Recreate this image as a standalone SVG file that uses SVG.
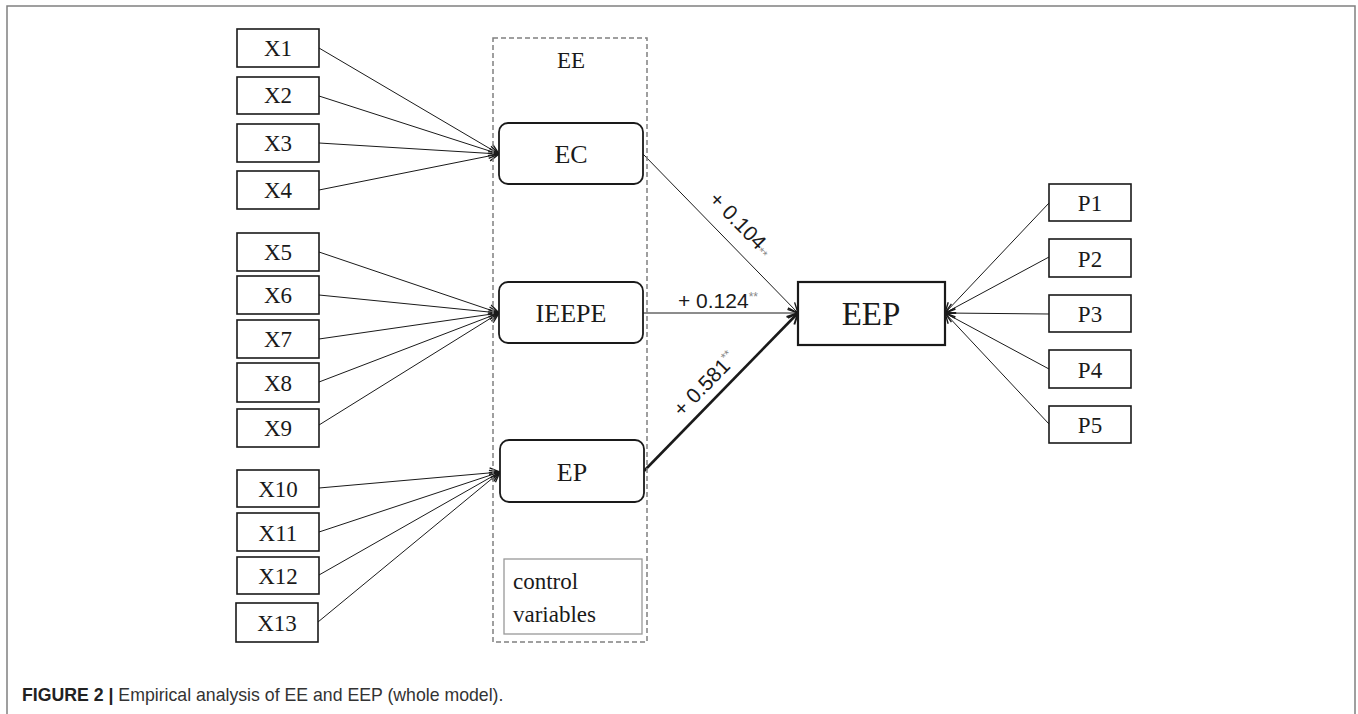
<svg xmlns="http://www.w3.org/2000/svg" width="1358" height="714" viewBox="0 0 1358 714">
<style>
.frame{fill:none;stroke:#808080;stroke-width:1.5}
.box{fill:#fff;stroke:#1a1a1a;stroke-width:1.6}
.rbox{fill:#fff;stroke:#1a1a1a;stroke-width:1.8}
.t{font-family:"Liberation Serif","Times New Roman",serif;fill:#1a1a1a;text-anchor:middle}
.lbl{font-family:"Liberation Sans",Arial,sans-serif;font-size:21px;fill:#1a1a1a}
.sup{font-size:12px;fill:#888}
.c{stroke:#1a1a1a;stroke-width:1;fill:none;marker-end:url(#arr)}
.thick{stroke-width:2.6;marker-end:url(#arrb)}
.cap{font-family:"Liberation Sans",Arial,sans-serif;font-size:17.7px;fill:#333}
</style>
<defs>
<marker id="arr" viewBox="0 0 12 12" refX="11" refY="6" markerWidth="12" markerHeight="12" markerUnits="userSpaceOnUse" orient="auto">
<path d="M1,1 L11,6 L1,11" fill="none" stroke="#1a1a1a" stroke-width="1.4"/>
</marker>
<marker id="arrb" viewBox="0 0 12 12" refX="11" refY="6" markerWidth="13" markerHeight="13" markerUnits="userSpaceOnUse" orient="auto">
<path d="M1,1 L11,6 L1,11" fill="none" stroke="#1a1a1a" stroke-width="1.8"/>
</marker>
</defs>
<rect width="1358" height="714" fill="#fff"/>
<path class="frame" d="M7,714 V6 H1355 V714"/>

<g id="connectors">
<line class="c" x1="319" y1="48" x2="499" y2="154"/>
<line class="c" x1="319" y1="96" x2="499" y2="154"/>
<line class="c" x1="319" y1="143" x2="499" y2="154"/>
<line class="c" x1="319" y1="190" x2="499" y2="154"/>
<line class="c" x1="319" y1="252" x2="499" y2="313"/>
<line class="c" x1="319" y1="295" x2="499" y2="313"/>
<line class="c" x1="319" y1="339" x2="499" y2="313"/>
<line class="c" x1="319" y1="382" x2="499" y2="313"/>
<line class="c" x1="319" y1="425" x2="499" y2="313"/>
<line class="c" x1="319" y1="488" x2="500" y2="472"/>
<line class="c" x1="319" y1="532" x2="500" y2="472"/>
<line class="c" x1="319" y1="575" x2="500" y2="472"/>
<line class="c" x1="318" y1="622" x2="500" y2="472"/>
<line class="c" x1="643" y1="154" x2="798" y2="313"/>
<line class="c" x1="643" y1="313" x2="798" y2="313"/>
<line class="c thick" x1="644" y1="471" x2="798" y2="313"/>
<line class="c" x1="1049" y1="203" x2="945" y2="313"/>
<line class="c" x1="1049" y1="257" x2="945" y2="313"/>
<line class="c" x1="1049" y1="314" x2="945" y2="313"/>
<line class="c" x1="1049" y1="369" x2="945" y2="313"/>
<line class="c" x1="1049" y1="424" x2="945" y2="313"/>
<text class="lbl" transform="translate(736,229) rotate(45.7)" text-anchor="middle">+ 0.104<tspan class="sup" dy="2">**</tspan></text>
<text class="lbl" x="678" y="308">+ 0.124<tspan class="sup" dy="-7">**</tspan></text>
<text class="lbl" transform="translate(710,389) rotate(-45.7)" text-anchor="middle">+ 0.581<tspan class="sup" dy="-8">**</tspan></text>
</g>

<g id="EE">
<rect x="493" y="38" width="154" height="604" fill="none" stroke="#808080" stroke-width="1.5" stroke-dasharray="5,3"/>
<text class="t" x="571" y="68" font-size="23">EE</text>
</g>
<g id="EC"><rect class="rbox" x="499" y="123" width="144" height="61" rx="9"/><text class="t" x="571" y="163" font-size="26">EC</text></g>
<g id="IEEPE"><rect class="rbox" x="499" y="282" width="144" height="61" rx="9"/><text class="t" x="571" y="322" font-size="26">IEEPE</text></g>
<g id="EP"><rect class="rbox" x="500" y="440" width="144" height="62" rx="9"/><text class="t" x="572" y="481" font-size="26">EP</text></g>
<g id="control">
<rect x="504" y="559" width="138" height="75" fill="none" stroke="#999" stroke-width="1.3"/>
<text class="t" x="513" y="589" font-size="23" style="text-anchor:start">control</text>
<text class="t" x="513" y="622" font-size="23" style="text-anchor:start">variables</text>
</g>
<g id="EEP"><rect x="798" y="282" width="147" height="63" fill="#fff" stroke="#1a1a1a" stroke-width="2.2"/><text class="t" x="871" y="325" font-size="33">EEP</text></g>

<g id="X1"><rect class="box" x="237" y="29" width="82" height="38"/><text class="t" x="278" y="56" font-size="23">X1</text></g>
<g id="X2"><rect class="box" x="237" y="77" width="82" height="37"/><text class="t" x="278" y="103" font-size="23">X2</text></g>
<g id="X3"><rect class="box" x="237" y="124" width="82" height="38"/><text class="t" x="278" y="151" font-size="23">X3</text></g>
<g id="X4"><rect class="box" x="237" y="171" width="82" height="38"/><text class="t" x="278" y="198" font-size="23">X4</text></g>
<g id="X5"><rect class="box" x="237" y="233" width="82" height="38"/><text class="t" x="278" y="260" font-size="23">X5</text></g>
<g id="X6"><rect class="box" x="237" y="276" width="82" height="38"/><text class="t" x="278" y="303" font-size="23">X6</text></g>
<g id="X7"><rect class="box" x="237" y="320" width="82" height="38"/><text class="t" x="278" y="347" font-size="23">X7</text></g>
<g id="X8"><rect class="box" x="237" y="363" width="82" height="39"/><text class="t" x="278" y="391" font-size="23">X8</text></g>
<g id="X9"><rect class="box" x="237" y="409" width="82" height="38"/><text class="t" x="278" y="436" font-size="23">X9</text></g>
<g id="X10"><rect class="box" x="237" y="470" width="82" height="37"/><text class="t" x="278" y="497" font-size="23">X10</text></g>
<g id="X11"><rect class="box" x="237" y="513" width="82" height="38"/><text class="t" x="278" y="541" font-size="23">X11</text></g>
<g id="X12"><rect class="box" x="237" y="557" width="82" height="37"/><text class="t" x="278" y="584" font-size="23">X12</text></g>
<g id="X13"><rect class="box" x="236" y="603" width="82" height="39"/><text class="t" x="277" y="631" font-size="23">X13</text></g>

<g id="P1"><rect class="box" x="1049" y="184" width="82" height="37"/><text class="t" x="1090" y="211" font-size="23">P1</text></g>
<g id="P2"><rect class="box" x="1049" y="239" width="82" height="38"/><text class="t" x="1090" y="267" font-size="23">P2</text></g>
<g id="P3"><rect class="box" x="1049" y="295" width="82" height="37"/><text class="t" x="1090" y="322" font-size="23">P3</text></g>
<g id="P4"><rect class="box" x="1049" y="350" width="82" height="38"/><text class="t" x="1090" y="378" font-size="23">P4</text></g>
<g id="P5"><rect class="box" x="1049" y="406" width="82" height="37"/><text class="t" x="1090" y="433" font-size="23">P5</text></g>

<text class="cap" x="22" y="701"><tspan font-weight="bold" fill="#222">FIGURE 2 |</tspan> Empirical analysis of EE and EEP (whole model).</text>
</svg>
